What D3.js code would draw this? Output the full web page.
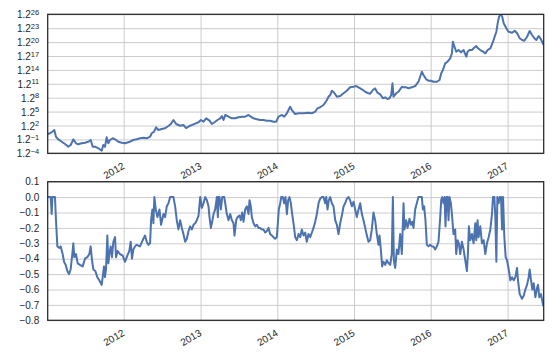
<!DOCTYPE html>
<html>
<head>
<meta charset="utf-8">
<script src="https://cdn.jsdelivr.net/npm/d3@7"></script>
<style>
    body { margin: 0; background: #fff; }
    text { font-family: "Liberation Sans", Arial, sans-serif; fill: #262626; }
</style>
</head>
<body>
<div id="chart"></div>
<script>
// equity curve, stored as the power of 1.2 (top panel is log base 1.2)
// [decimal year, exponent]
const equityExp = [
    [2011.009, 0.17], [2011.039, 0.32], [2011.069, 0.66], [2011.095, 1.03], [2011.117, -0.42],
    [2011.147, -0.98], [2011.192, -1.50], [2011.235, -1.99], [2011.278, -2.58], [2011.309, -2.21],
    [2011.343, -0.98], [2011.378, -1.84], [2011.408, -2.06], [2011.452, -1.84], [2011.495, -1.71],
    [2011.538, -1.50], [2011.570, -1.13], [2011.596, -2.58], [2011.626, -2.58], [2011.669, -2.92],
    [2011.713, -3.44], [2011.734, -2.21], [2011.756, -2.58], [2011.778, -0.55], [2011.799, -1.84],
    [2011.821, -1.13], [2011.857, -0.76], [2011.887, -0.98], [2011.930, -1.50], [2011.974, -1.71],
    [2012.017, -1.84], [2012.039, -1.71], [2012.082, -1.50], [2012.125, -1.13], [2012.169, -0.98],
    [2012.213, -0.76], [2012.256, -0.63], [2012.300, -0.76], [2012.343, -0.42], [2012.365, 0.32],
    [2012.395, 0.66], [2012.421, 1.61], [2012.451, 1.03], [2012.495, 1.24], [2012.538, 1.40],
    [2012.581, 1.89], [2012.613, 2.32], [2012.647, 3.19], [2012.682, 2.32], [2012.712, 2.11],
    [2012.734, 1.95], [2012.777, 2.11], [2012.812, 1.45], [2012.864, 1.95], [2012.930, 2.40],
    [2012.973, 2.70], [2013.004, 3.19], [2013.038, 2.82], [2013.073, 3.55], [2013.116, 3.04],
    [2013.147, 2.32], [2013.190, 2.82], [2013.220, 3.19], [2013.256, 3.55], [2013.278, 4.05],
    [2013.299, 3.19], [2013.321, 4.27], [2013.364, 3.90], [2013.408, 3.55], [2013.451, 3.55],
    [2013.494, 3.77], [2013.538, 3.90], [2013.582, 3.90], [2013.625, 4.27], [2013.656, 3.90],
    [2013.690, 3.55], [2013.734, 3.34], [2013.777, 3.19], [2013.820, 3.19], [2013.864, 3.04],
    [2013.907, 3.04], [2013.950, 2.82], [2013.986, 2.82], [2014.016, 3.90], [2014.060, 4.27],
    [2014.090, 3.90], [2014.125, 4.63], [2014.168, 6.06], [2014.190, 5.34], [2014.233, 4.48],
    [2014.276, 4.63], [2014.342, 4.63], [2014.407, 4.76], [2014.451, 4.63], [2014.494, 4.98],
    [2014.524, 5.71], [2014.559, 5.93], [2014.602, 6.42], [2014.647, 7.50], [2014.668, 8.21],
    [2014.690, 8.58], [2014.712, 9.51], [2014.742, 9.08], [2014.777, 8.21], [2014.820, 8.37],
    [2014.863, 8.95], [2014.907, 9.51], [2014.950, 10.24], [2014.994, 10.37], [2015.029, 10.52],
    [2015.059, 10.24], [2015.103, 9.81], [2015.146, 9.29], [2015.189, 8.95], [2015.211, 8.85],
    [2015.246, 9.66], [2015.276, 10.00], [2015.306, 9.08], [2015.342, 8.73], [2015.377, 7.87],
    [2015.407, 8.08], [2015.437, 7.72], [2015.463, 7.87], [2015.485, 8.58], [2015.502, 11.11],
    [2015.515, 8.21], [2015.550, 8.95], [2015.580, 9.29], [2015.602, 9.81], [2015.625, 10.37],
    [2015.645, 10.24], [2015.681, 10.24], [2015.711, 10.03], [2015.755, 10.24], [2015.798, 10.52],
    [2015.841, 11.45], [2015.863, 12.53], [2015.885, 13.61], [2015.906, 12.90], [2015.941, 11.97],
    [2015.971, 11.67], [2016.003, 11.67], [2016.037, 11.45], [2016.081, 11.45], [2016.115, 11.82],
    [2016.137, 13.26], [2016.159, 13.98], [2016.189, 15.42], [2016.219, 15.77], [2016.254, 16.50],
    [2016.276, 17.58], [2016.289, 20.08], [2016.310, 19.00], [2016.332, 17.93], [2016.362, 18.29],
    [2016.394, 17.79], [2016.428, 18.29], [2016.463, 16.85], [2016.480, 17.93], [2016.506, 18.29],
    [2016.537, 18.29], [2016.558, 18.66], [2016.593, 19.15], [2016.615, 18.66], [2016.645, 18.29],
    [2016.681, 17.93], [2016.711, 17.58], [2016.741, 18.29], [2016.776, 18.66], [2016.811, 20.08],
    [2016.832, 21.16], [2016.854, 22.24], [2016.871, 24.05], [2016.889, 25.48], [2016.906, 25.85],
    [2016.928, 25.63], [2016.949, 24.05], [2016.984, 22.97], [2017.014, 22.24], [2017.059, 22.02],
    [2017.093, 22.46], [2017.124, 21.90], [2017.158, 20.82], [2017.189, 20.45], [2017.219, 20.30],
    [2017.254, 21.16], [2017.288, 22.39], [2017.319, 21.53], [2017.349, 20.82], [2017.375, 20.45],
    [2017.405, 21.31], [2017.428, 20.82], [2017.450, 20.08], [2017.471, 19.37]
]

// drawdown, [decimal year, drawdown]
const drawdown = [
    [2011.009, 0], [2011.030, 0], [2011.048, 0], [2011.061, -0.11], [2011.070, 0],
    [2011.083, 0], [2011.104, 0], [2011.117, -0.15], [2011.135, -0.32], [2011.161, -0.33],
    [2011.178, -0.32], [2011.204, -0.37], [2011.222, -0.42], [2011.243, -0.44], [2011.265, -0.48],
    [2011.287, -0.50], [2011.308, -0.47], [2011.330, -0.37], [2011.343, -0.30], [2011.356, -0.39],
    [2011.378, -0.37], [2011.400, -0.43], [2011.430, -0.44], [2011.465, -0.45], [2011.495, -0.40],
    [2011.526, -0.39], [2011.552, -0.37], [2011.569, -0.32], [2011.587, -0.41], [2011.604, -0.47],
    [2011.630, -0.48], [2011.656, -0.52], [2011.682, -0.54], [2011.713, -0.57], [2011.726, -0.52],
    [2011.743, -0.45], [2011.756, -0.52], [2011.769, -0.47], [2011.787, -0.25], [2011.800, -0.43],
    [2011.813, -0.37], [2011.830, -0.32], [2011.847, -0.39], [2011.865, -0.29], [2011.887, -0.26],
    [2011.900, -0.39], [2011.921, -0.35], [2011.952, -0.37], [2011.987, -0.38], [2012.017, -0.42],
    [2012.047, -0.38], [2012.073, -0.35], [2012.091, -0.29], [2012.108, -0.40], [2012.126, -0.34],
    [2012.147, -0.32], [2012.169, -0.31], [2012.212, -0.32], [2012.256, -0.27], [2012.278, -0.25],
    [2012.299, -0.29], [2012.321, -0.31], [2012.343, -0.30], [2012.356, -0.15], [2012.373, -0.08],
    [2012.386, -0.17], [2012.399, 0], [2012.417, -0.08], [2012.438, -0.13], [2012.465, -0.08],
    [2012.486, -0.18], [2012.517, -0.11], [2012.538, -0.13], [2012.560, -0.06], [2012.582, -0.04],
    [2012.604, 0], [2012.625, 0], [2012.647, 0], [2012.669, -0.06], [2012.690, -0.15],
    [2012.712, -0.21], [2012.734, -0.15], [2012.756, -0.20], [2012.777, -0.24], [2012.799, -0.29],
    [2012.821, -0.27], [2012.843, -0.22], [2012.864, -0.19], [2012.886, -0.21], [2012.908, -0.18],
    [2012.930, -0.17], [2012.951, -0.15], [2012.973, -0.12], [2012.995, 0], [2013.003, -0.02],
    [2013.016, -0.07], [2013.038, -0.04], [2013.060, 0], [2013.082, -0.02], [2013.103, -0.06],
    [2013.116, -0.13], [2013.134, -0.20], [2013.147, -0.17], [2013.169, -0.11], [2013.190, -0.08],
    [2013.212, 0], [2013.225, -0.13], [2013.234, 0], [2013.247, 0], [2013.264, -0.08],
    [2013.282, 0], [2013.290, 0], [2013.308, 0], [2013.321, -0.04], [2013.342, -0.11],
    [2013.364, -0.15], [2013.386, -0.11], [2013.408, -0.15], [2013.429, -0.17], [2013.442, -0.25],
    [2013.464, -0.15], [2013.481, -0.13], [2013.508, -0.12], [2013.525, -0.15], [2013.542, -0.10],
    [2013.560, -0.16], [2013.581, -0.08], [2013.603, -0.06], [2013.625, -0.11], [2013.638, -0.02],
    [2013.655, -0.06], [2013.668, -0.13], [2013.690, -0.17], [2013.712, -0.19], [2013.734, -0.18],
    [2013.755, -0.20], [2013.777, -0.20], [2013.799, -0.21], [2013.820, -0.21], [2013.842, -0.23],
    [2013.864, -0.22], [2013.886, -0.20], [2013.907, -0.24], [2013.929, -0.25], [2013.951, -0.26],
    [2013.973, -0.27], [2013.994, -0.26], [2014.007, -0.17], [2014.020, -0.08], [2014.038, -0.04],
    [2014.051, 0], [2014.073, 0], [2014.090, -0.04], [2014.107, 0], [2014.125, -0.11],
    [2014.142, -0.02], [2014.159, 0], [2014.177, -0.04], [2014.194, -0.11], [2014.212, -0.17],
    [2014.233, -0.26], [2014.255, -0.28], [2014.277, -0.24], [2014.299, -0.26], [2014.320, -0.21],
    [2014.342, -0.25], [2014.364, -0.23], [2014.385, -0.29], [2014.407, -0.24], [2014.429, -0.26],
    [2014.451, -0.23], [2014.472, -0.20], [2014.494, -0.16], [2014.516, -0.11], [2014.538, -0.04],
    [2014.559, -0.01], [2014.581, 0], [2014.603, 0], [2014.624, -0.04], [2014.638, 0],
    [2014.655, -0.08], [2014.672, -0.02], [2014.690, 0], [2014.711, -0.04], [2014.733, -0.06],
    [2014.755, -0.15], [2014.777, -0.18], [2014.798, -0.24], [2014.820, -0.17], [2014.842, -0.12],
    [2014.864, -0.06], [2014.885, -0.04], [2014.907, -0.01], [2014.929, 0], [2014.950, -0.02],
    [2014.972, -0.06], [2014.994, -0.03], [2015.016, -0.08], [2015.037, -0.13], [2015.059, -0.08],
    [2015.081, -0.04], [2015.103, -0.11], [2015.124, -0.15], [2015.146, -0.20], [2015.168, -0.25],
    [2015.189, -0.29], [2015.211, -0.28], [2015.233, -0.21], [2015.254, -0.10], [2015.276, -0.15],
    [2015.298, -0.24], [2015.320, -0.31], [2015.333, -0.25], [2015.350, -0.34], [2015.367, -0.45],
    [2015.385, -0.42], [2015.407, -0.44], [2015.428, -0.41], [2015.450, -0.43], [2015.472, -0.44],
    [2015.493, -0.37], [2015.507, 0], [2015.520, -0.41], [2015.537, -0.46], [2015.559, -0.34],
    [2015.580, -0.37], [2015.602, -0.24], [2015.624, -0.37], [2015.646, -0.04], [2015.659, -0.21],
    [2015.680, -0.15], [2015.698, -0.20], [2015.724, -0.14], [2015.741, -0.18], [2015.759, -0.16],
    [2015.776, -0.20], [2015.798, -0.08], [2015.819, -0.04], [2015.841, 0], [2015.863, 0],
    [2015.885, 0], [2015.898, -0.08], [2015.915, -0.06], [2015.932, -0.15], [2015.950, -0.31],
    [2015.972, -0.32], [2015.993, -0.31], [2016.015, -0.32], [2016.037, -0.32], [2016.058, -0.34],
    [2016.080, -0.32], [2016.102, -0.29], [2016.124, -0.13], [2016.137, -0.02], [2016.150, 0],
    [2016.167, -0.04], [2016.180, 0], [2016.193, -0.19], [2016.206, 0], [2016.219, 0],
    [2016.232, -0.15], [2016.245, 0], [2016.263, -0.04], [2016.276, -0.11], [2016.297, -0.24],
    [2016.319, -0.21], [2016.332, -0.37], [2016.350, -0.28], [2016.367, -0.30], [2016.384, -0.37],
    [2016.406, -0.29], [2016.428, -0.34], [2016.450, -0.41], [2016.471, -0.48], [2016.484, -0.37],
    [2016.497, -0.19], [2016.515, -0.28], [2016.537, -0.24], [2016.558, -0.30], [2016.580, -0.17],
    [2016.593, -0.28], [2016.610, -0.15], [2016.623, -0.26], [2016.645, -0.19], [2016.667, -0.30],
    [2016.689, -0.28], [2016.710, -0.37], [2016.732, -0.30], [2016.754, -0.26], [2016.776, -0.21],
    [2016.797, -0.11], [2016.810, 0], [2016.828, 0], [2016.841, -0.13], [2016.854, -0.42],
    [2016.867, 0], [2016.884, -0.04], [2016.897, 0], [2016.915, 0], [2016.928, -0.21],
    [2016.941, 0], [2016.958, -0.26], [2016.975, -0.39], [2016.993, -0.41], [2017.015, -0.47],
    [2017.036, -0.54], [2017.058, -0.52], [2017.080, -0.54], [2017.101, -0.52], [2017.123, -0.46],
    [2017.136, -0.54], [2017.158, -0.63], [2017.188, -0.66], [2017.210, -0.64], [2017.232, -0.60],
    [2017.254, -0.57], [2017.275, -0.52], [2017.288, -0.47], [2017.306, -0.54], [2017.323, -0.60],
    [2017.341, -0.56], [2017.362, -0.65], [2017.384, -0.59], [2017.397, -0.57], [2017.414, -0.65],
    [2017.436, -0.63], [2017.458, -0.69], [2017.471, -0.71]
]

// tick labels
const yearTicks = [2012, 2013, 2014, 2015, 2016, 2017]
const equityTickExps = [-4, -1, 2, 5, 8, 11, 14, 17, 20, 23, 26]
const drawdownTicks = [0.1, 0.0, -0.1, -0.2, -0.3, -0.4, -0.5, -0.6, -0.7, -0.8]

const width = 560
const height = 355
const left = 47.7
const right = 543.7
const panels = [
    { top: 14.3, bottom: 153.3 },
    { top: 181.7, bottom: 320.3 }
]
const lineColor = '#4C72B0'
const gridColor = '#cccccc'
const inkColor = '#262626'

// decimal year -> Date (UTC)
function toDate(y) {
    let yr = Math.floor(y)
    let a = Date.UTC(yr, 0, 1)
    let b = Date.UTC(yr + 1, 0, 1)
    return new Date(a + (y - yr) * (b - a))
}

let svg = d3.select('#chart').append('svg')
    .attr('width', width)
    .attr('height', height)

let x = d3.scaleUtc()
    .domain(d3.extent(drawdown, (d) => toDate(d[0])))
    .range([left, right])

let yEq = d3.scaleLog().base(1.2)
    .domain([Math.pow(1.2, -4), Math.pow(1.2, 26)])
    .range([panels[0].bottom, panels[0].top])

let yDd = d3.scaleLinear()
    .domain([-0.8, 0.1])
    .range([panels[1].bottom, panels[1].top])

let defs = svg.append('defs')
panels.forEach((p, i) => {
    defs.append('clipPath').attr('id', 'clip' + i)
        .append('rect')
        .attr('x', left).attr('y', p.top)
        .attr('width', right - left).attr('height', p.bottom - p.top)
})

let drawPanel = function (i, yScale, yTicks, yFormat, series, yValue) {
    let p = panels[i]
    let g = svg.append('g')

    // x grid + rotated year labels
    let xAxis = g.append('g')
        .attr('transform', 'translate(0,' + p.bottom + ')')
        .call(d3.axisBottom(x)
            .tickValues(yearTicks.map((yr) => new Date(Date.UTC(yr, 0, 1))))
            .tickFormat(d3.utcFormat('%Y'))
            .tickSize(-(p.bottom - p.top)))
    xAxis.select('.domain').remove()
    xAxis.selectAll('line').attr('stroke', gridColor).attr('stroke-width', 1)
    xAxis.selectAll('text')
        .attr('y', 0)
        .attr('dy', '0.72em')
        .attr('text-anchor', 'end')
        .attr('transform', 'translate(-2.5,8.5) rotate(-30)')
        .style('font-size', '10px')
        .attr('fill', inkColor)

    // y grid + labels
    let yAxis = g.append('g')
        .attr('transform', 'translate(' + left + ',0)')
        .call(d3.axisLeft(yScale)
            .tickValues(yTicks)
            .tickFormat(() => '')
            .tickSize(-(right - left))
            .tickPadding(8.5))
    yAxis.select('.domain').remove()
    yAxis.selectAll('line').attr('stroke', gridColor).attr('stroke-width', 1)
    yAxis.selectAll('text').each(function (d, k) {
        yFormat(d3.select(this), k)
    })
    yAxis.selectAll('text')
        .style('font-size', '10px')
        .attr('fill', inkColor)

    // the series
    g.append('path')
        .datum(series)
        .attr('clip-path', 'url(#clip' + i + ')')
        .attr('fill', 'none')
        .attr('stroke', lineColor)
        .attr('stroke-width', 2)
        .attr('stroke-linejoin', 'round')
        .attr('d', d3.line()
            .x((d) => x(toDate(d[0])))
            .y((d) => yScale(yValue(d))))

    // spines
    g.append('rect')
        .attr('x', left).attr('y', p.top)
        .attr('width', right - left).attr('height', p.bottom - p.top)
        .attr('fill', 'none')
        .attr('stroke', inkColor)
        .attr('stroke-width', 1.25)
}

drawPanel(0, yEq, equityTickExps.map((e) => Math.pow(1.2, e)),
    function (t, k) {
        let e = equityTickExps[k]
        t.text(null)
        t.append('tspan').text('1.2')
        t.append('tspan')
            .attr('dy', '-0.45em')
            .style('font-size', '7.5px')
            .text(e < 0 ? '\u2212' + Math.abs(e) : String(e))
        t.attr('dy', '0.35em')
    },
    equityExp, (d) => Math.pow(1.2, d[1]))

let ddFmt = d3.format('.1f')
drawPanel(1, yDd, drawdownTicks,
    function (t, k) {
        let v = drawdownTicks[k]
        t.text(v === 0 ? '0.0' : ddFmt(v))
    },
    drawdown, (d) => d[1])
</script>
</body>
</html>
